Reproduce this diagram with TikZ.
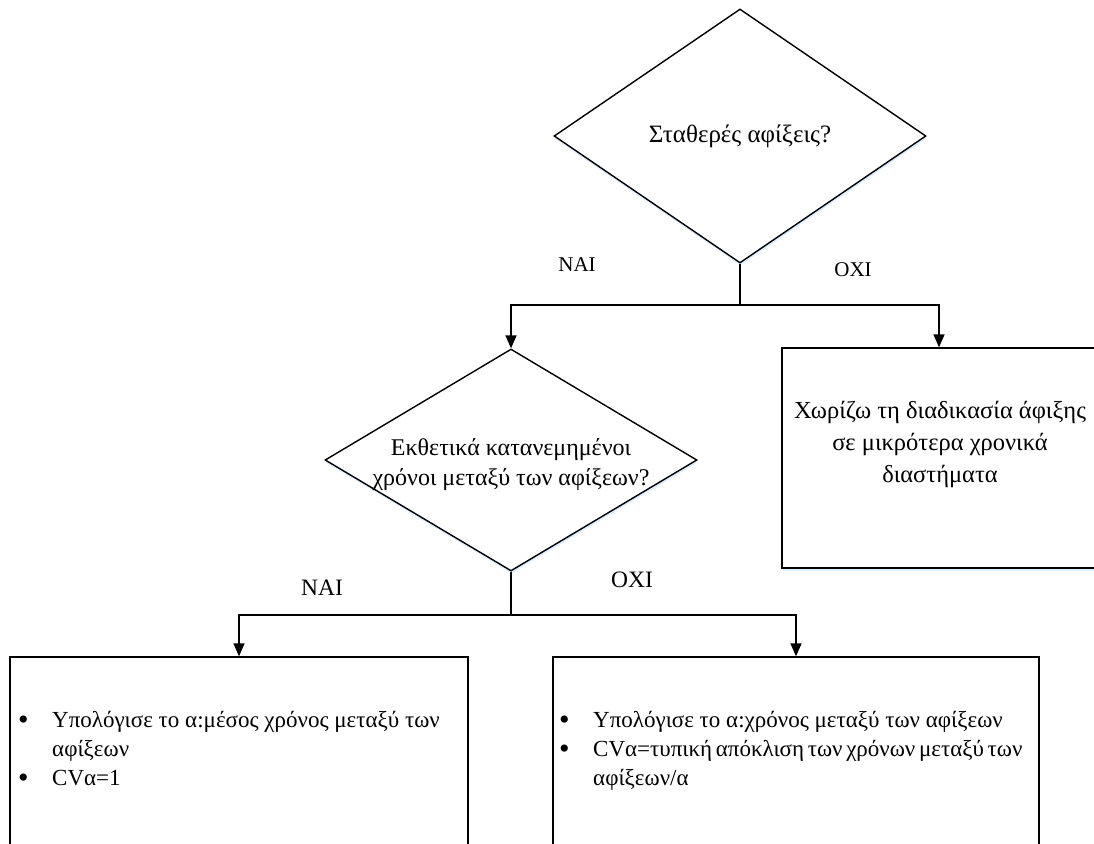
\documentclass[tikz,border=0pt]{standalone}
\usepackage{fontspec}
\setmainfont{Liberation Serif}
\usetikzlibrary{shapes.geometric,arrows.meta,shadows}
\newcommand{\bul}{\hspace*{4pt}\raisebox{-1.5pt}{\fontsize{30}{29}\selectfont\textbullet}}
\newcommand{\tightsp}{\spaceskip=0.16em plus 0.05em\relax}
\begin{document}
\begin{tikzpicture}[x=1pt,y=-1pt,
  every node/.style={font=\fontsize{24}{30}\selectfont, text=black},
  glow/.style={drop shadow={shadow xshift=0.5pt, shadow yshift=-2.5pt, fill=blue!50!cyan!40, opacity=0.35}},
  decision/.style={diamond, draw, line width=1.4pt, fill=white, glow, inner sep=0pt, minimum width=372pt, minimum height=#1, align=center},
  procbox/.style={rectangle, draw, line width=1.4pt, fill=white, glow, inner sep=0pt},
  conn/.style={line width=1.6pt},
  arr/.style={conn, -{Triangle[length=13pt,width=11pt]}},
  lbl/.style={font=\fontsize{#1}{#1}\selectfont, inner sep=0pt},
  listtext/.style={anchor=north west, inner sep=0pt, font=\fontsize{23}{29}\selectfont}
]
\useasboundingbox (0,0) rectangle (1094,843);
\clip (0,0) rectangle (1094,843);
\fill[white] (0,0) rectangle (1094,843);

% shapes
\node[decision=254pt] (d1) at (740,136) {};
\node[font=\fontsize{25}{30}\selectfont] (t1) at (740,136) {Σταθερές αφίξεις?};

\node[decision=222pt] (d2) at (511,460) {};
\node[align=center] (t2) at (511,465) {Εκθετικά κατανεμημένοι\\χρόνοι μεταξύ των αφίξεων?};

\node[procbox, minimum width=314pt, minimum height=220pt] (r1) at (939,458) {};
\node[align=center, font=\fontsize{24.5}{32}\selectfont] (t3) at (940,444) {Χωρίζω τη διαδικασία άφιξης\\σε μικρότερα χρονικά\\διαστήματα};

\node[procbox, minimum width=458pt, minimum height=260pt] (b1) at (239,787) {};
\node[procbox, minimum width=486pt, minimum height=260pt] (b2) at (796,787) {};

\node[listtext] (t4) at (14,707) {%
  \begin{tabular}{@{}p{38pt}@{}l@{}}
  \bul & Υπολόγισε το α:μέσος χρόνος μεταξύ των\\
   & αφίξεων\\
  \bul & CVα=1
  \end{tabular}};
\node[listtext] (t5) at (555,707) {%
  \begin{tabular}{@{}p{38pt}@{}l@{}}
  \bul & Υπολόγισε το α:χρόνος μεταξύ των αφίξεων\\
  \bul & {\tightsp CVα=τυπική απόκλιση των χρόνων μεταξύ των}\\
   & αφίξεων/α
  \end{tabular}};

% connectors
\coordinate (j1) at (d1.south |- 0,305);
\coordinate (j2) at (d2.south |- 0,615);
\draw[conn] (d1.south) -- (j1);
\draw[arr] (j1) -| (d2.north);
\draw[arr] (j1) -| (r1.north);
\draw[conn] (d2.south) -- (j2);
\draw[arr] (j2) -| (b1.north);
\draw[arr] (j2) -| (b2.north);

% labels
\node[lbl=21] (n1) at (577,265) {NAI};
\node[lbl=21] (o1) at (853,270) {OXI};
\node[lbl=23.5] (n2) at (322,588) {NAI};
\node[lbl=23.5] (o2) at (632,580) {OXI};
\end{tikzpicture}
\end{document}
